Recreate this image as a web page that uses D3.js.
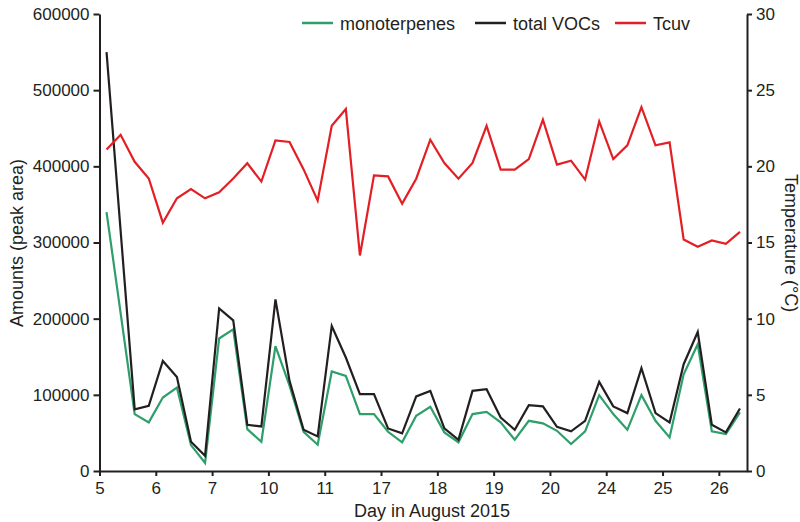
<!DOCTYPE html>
<html><head><meta charset="utf-8">
<script src="https://cdn.jsdelivr.net/npm/d3@7/dist/d3.min.js"></script>
<style>body{margin:0;background:#fff}svg text{font-family:"Liberation Sans",Arial,sans-serif;fill:#231f20}</style>
</head><body><svg id="c" width="800" height="522"></svg>
<script>
const dayLabels = ["5","6","7","10","11","17","18","19","20","24","25","26"];
const leftTicks = [0,100000,200000,300000,400000,500000,600000];
const rightTicks = [0,5,10,15,20,25,30];
const seriesNames = ["monoterpenes","total VOCs","Tcuv"];
const monoterpenes = [340000,null,74700,63800,96500,109600,34000,10500,174000,186000,55000,38400,164000,112000,51500,34500,130600,124900,74700,74700,51500,37600,72500,84300,50700,37600,74700,77700,63800,41000,65900,62500,52800,35400,52000,99600,74700,54100,99600,65900,44100,127000,166400,52000,48500,76900];
const totalVOCs = [550000,null,81000,85500,144500,123500,38400,20000,213500,197800,60700,58500,225300,118300,54100,45400,190400,149000,100900,100900,55900,49400,97900,105200,55900,41000,105200,107400,70300,54100,86500,84800,58000,52000,65900,117000,84800,76000,135000,76000,63800,140200,182500,60700,50700,82100];
const tcuv = [21.1,22.07,20.3,19.2,16.3,17.9,18.5,17.9,18.3,19.2,20.2,19.0,21.7,21.6,19.8,17.75,22.66,23.76,14.15,19.41,19.34,17.55,19.19,21.75,20.22,19.19,20.22,22.66,19.78,19.78,20.48,23.06,20.11,20.37,19.13,22.95,20.48,21.38,23.89,21.38,21.57,15.2,14.72,15.13,14.91,15.7];
const colors = {mono:"#2e9e6b", voc:"#231f20", t:"#e31e24"};

const svg = d3.select("#c");
const L=99.5, R=747, T=14, B=471;
const x = d3.scaleLinear().domain([0,46]).range([L,R]);
const yL = d3.scaleLinear().domain([0,600000]).range([B,T]);
const yR = d3.scaleLinear().domain([0,30]).range([B,T]);

function drawLine(vals, scale, color){
  const pts = vals.map((v,i)=>({i, v})).filter(d=>d.v!==null);
  svg.append("path").datum(pts)
    .attr("fill","none").attr("stroke",color).attr("stroke-width",2.2)
    .attr("stroke-linejoin","miter")
    .attr("d", d3.line().x(d=>x(d.i+0.5)).y(d=>scale(d.v)));
}
drawLine(monoterpenes, yL, colors.mono);
drawLine(totalVOCs, yL, colors.voc);
drawLine(tcuv, yR, colors.t);

function styleAxis(g){
  g.selectAll("path,line").attr("stroke","#231f20").attr("stroke-width",2);
  g.selectAll("text").style("font-size","17px").attr("fill","#231f20");
}
const ax = svg.append("g").attr("transform",`translate(0,${B})`)
  .call(d3.axisBottom(x).tickValues(d3.range(0,48,4)).tickFormat((d,i)=>dayLabels[i]).tickSize(5).tickSizeOuter(0).tickPadding(6));
styleAxis(ax);
const al = svg.append("g").attr("transform",`translate(${L},0)`)
  .call(d3.axisLeft(yL).tickValues(leftTicks).tickFormat(d3.format("d")).tickSize(6).tickSizeOuter(0).tickPadding(4));
styleAxis(al);
const ar = svg.append("g").attr("transform",`translate(${R},0)`)
  .call(d3.axisRight(yR).tickValues(rightTicks).tickSize(5).tickSizeOuter(0).tickPadding(4));
styleAxis(ar);

svg.append("text").attr("transform",`translate(23,243) rotate(-90)`).attr("text-anchor","middle").style("font-size","18px").text("Amounts (peak area)");
svg.append("text").attr("transform",`translate(785,243) rotate(90)`).attr("text-anchor","middle").style("font-size","18px").text("Temperature (°C)");
svg.append("text").attr("x",432).attr("y",517).attr("text-anchor","middle").style("font-size","18px").text("Day in August 2015");

const legend = [
  {name:seriesNames[0], color:colors.mono, x0:302},
  {name:seriesNames[1], color:colors.voc, x0:475},
  {name:seriesNames[2], color:colors.t, x0:615}
];
legend.forEach(d=>{
  svg.append("line").attr("x1",d.x0).attr("x2",d.x0+31).attr("y1",23).attr("y2",23).attr("stroke",d.color).attr("stroke-width",2.5);
  svg.append("text").attr("x",d.x0+38).attr("y",29.5).style("font-size","18px").text(d.name);
});
</script></body></html>
